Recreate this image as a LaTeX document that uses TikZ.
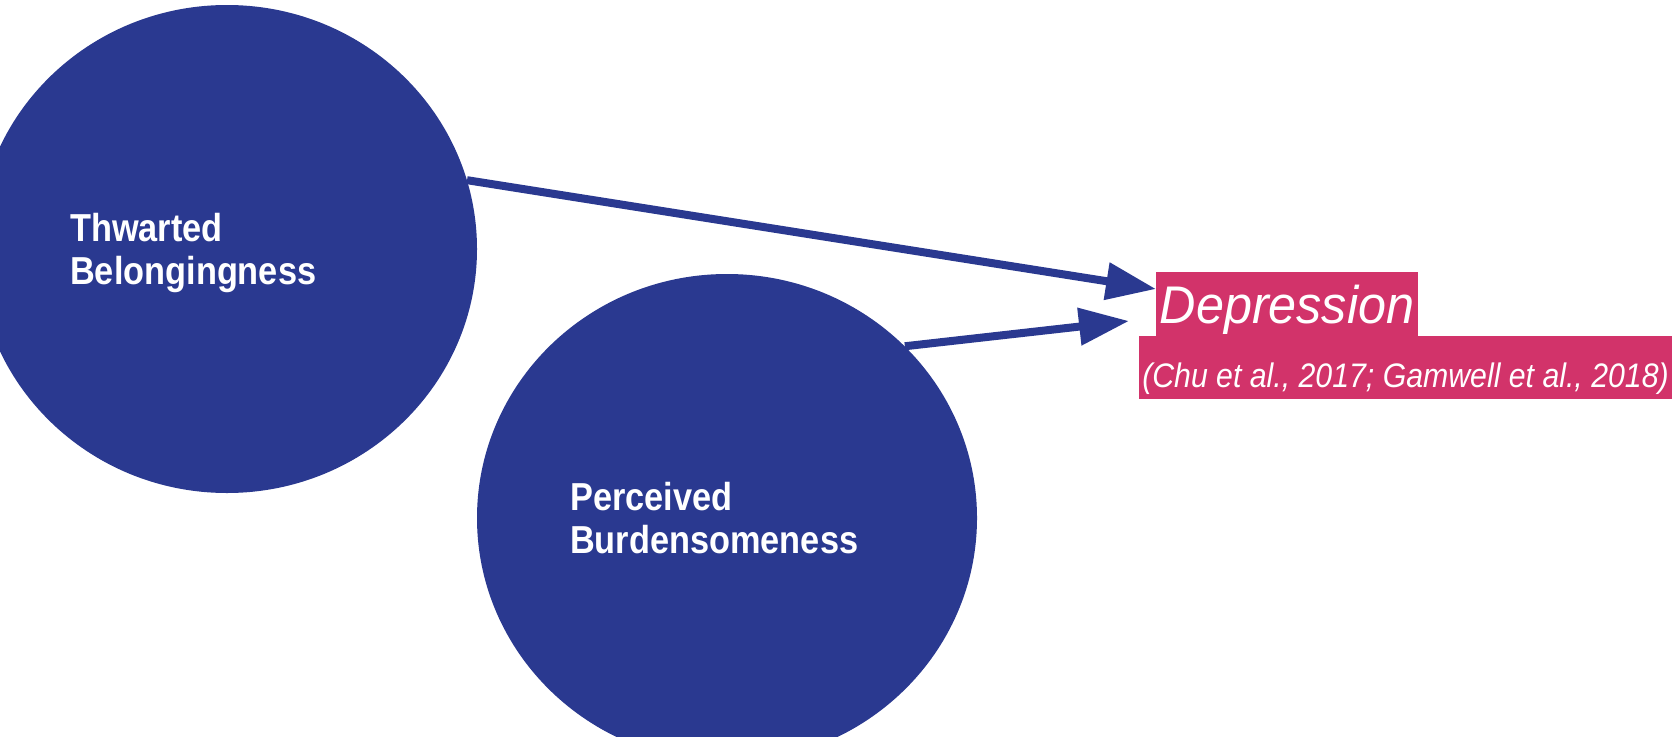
\documentclass[tikz,border=0pt]{standalone}
\usepackage{fontspec}
\usetikzlibrary{shapes.geometric,arrows.meta}
\newfontfamily\circlefont[FakeStretch=0.88]{Liberation Sans}
\newfontfamily\depfont[FakeStretch=0.95]{Liberation Sans}
\newfontfamily\citefont[FakeStretch=0.89]{Liberation Sans}
\definecolor{navy}{HTML}{2A3990}
\definecolor{rose}{HTML}{D2336A}
\begin{document}
\begin{tikzpicture}[x=1pt,y=-1pt,
  blob/.style={ellipse, fill=navy, inner sep=0pt, minimum width=500pt, minimum height=488pt},
  blobtext/.style={anchor=base west, inner sep=0pt, text=white,
    font=\circlefont\bfseries\fontsize{39}{43}\selectfont},
  highlight/.style={fill=rose, text=white, inner sep=0pt},
  link/.style={draw=navy, line width=8pt, -{Triangle[length=50pt,width=36pt]}}]
\clip (0,0) rectangle (1680,736);
\fill[white] (0,0) rectangle (1680,736);

% the two construct circles
\node[blob] (tb) at (227,249) {};
\node[blob] (pb) at (727,518) {};
\node[blobtext] (tbl) at (70,241)
  {\begin{tabular}[t]{@{}l@{}}Thwarted\\Belongingness\end{tabular}};
\node[blobtext] (pbl) at (570,510)
  {\begin{tabular}[t]{@{}l@{}}Perceived\\Burdensomeness\end{tabular}};

% outcome label with its citation
\node[highlight, minimum width=262pt, minimum height=64pt, text height=38pt, text depth=0pt,
  font=\depfont\itshape\fontsize{53}{60}\selectfont] (dep) at (1287,304) {Depression};
\node[highlight, minimum width=533pt, minimum height=63pt, text height=39pt, text depth=0pt,
  font=\citefont\itshape\fontsize{34}{40}\selectfont] (cite) at (1405.5,367.5)
  {(Chu et al., 2017; Gamwell et al., 2018)};

% arrows into the outcome
\coordinate (tip1) at (1156,289);
\coordinate (tip2) at (1129,321);
\draw[link] (tb.16.6) -- (tip1);
\draw[link] (pb.44.2) -- (tip2);
\end{tikzpicture}
\end{document}
